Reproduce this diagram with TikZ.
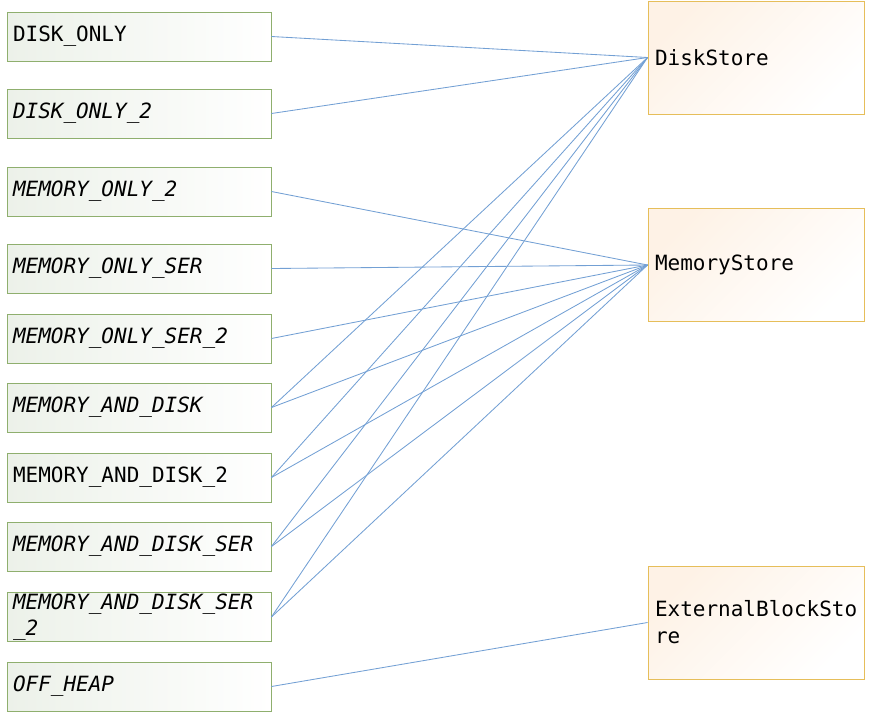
\documentclass[tikz,border=0pt]{standalone}
\usepackage{fontspec}
\setmonofont{DejaVu Sans Mono}
\usepackage{tikz}
\definecolor{lvlborder}{RGB}{143,175,110}
\definecolor{lvlfill}{RGB}{236,241,233}
\definecolor{storeborder}{RGB}{230,190,90}
\definecolor{storefill}{RGB}{254,242,230}
\definecolor{linkblue}{RGB}{115,160,212}

\begin{document}
\begin{tikzpicture}[x=1pt, y=-1pt,
  level/.style={draw=lvlborder, line width=0.9pt, left color=lvlfill, right color=white,
    minimum width=264pt, minimum height=49pt, text width=252pt, inner xsep=6pt, inner ysep=1pt, align=left,
    font=\ttfamily\fontsize{21}{26}\selectfont},
  store/.style={draw=storeborder, line width=0.9pt, top color=storefill, bottom color=white, shading angle=45,
    minimum width=216pt, minimum height=113pt, text width=202pt, inner xsep=7pt, align=left,
    font=\ttfamily\fontsize{21}{27}\selectfont},
  link/.style={draw=linkblue, line width=0.85pt}]
\useasboundingbox (0,0) rectangle (871,713);

\node[level] (L1)  at (139,36.5)  {DISK\_ONLY};
\node[level] (L2)  at (139,113.5) {\itshape DISK\_ONLY\_2};
\node[level] (L3)  at (139,191.5) {\itshape MEMORY\_ONLY\_2};
\node[level] (L4)  at (139,268.5) {\itshape MEMORY\_ONLY\_SER};
\node[level] (L5)  at (139,338.5) {\itshape MEMORY\_ONLY\_SER\_2};
\node[level] (L6)  at (139,407.5) {\itshape MEMORY\_AND\_DISK};
\node[level] (L7)  at (139,477.5) {MEMORY\_AND\_DISK\_2};
\node[level] (L8)  at (139,546.5) {\itshape MEMORY\_AND\_DISK\_SER};
\node[level] (L9)  at (139,617)   {\itshape MEMORY\_AND\_DISK\_SER\\\itshape \_2};
\node[level] (L10) at (139,686.5) {\itshape OFF\_HEAP};

\node[store] (S1) at (756,57.5)  {DiskStore};
\node[store] (S2) at (756,265)   {MemoryStore};
\node[store] (S3) at (756,622.5) {ExternalBlockSto\\re};

\draw[link] (L1.east) -- (S1.west);
\draw[link] (L2.east) -- (S1.west);
\draw[link] (L6.east) -- (S1.west);
\draw[link] (L7.east) -- (S1.west);
\draw[link] (L8.east) -- (S1.west);
\draw[link] (L9.east) -- (S1.west);

\draw[link] (L3.east) -- (S2.west);
\draw[link] (L4.east) -- (S2.west);
\draw[link] (L5.east) -- (S2.west);
\draw[link] (L6.east) -- (S2.west);
\draw[link] (L7.east) -- (S2.west);
\draw[link] (L8.east) -- (S2.west);
\draw[link] (L9.east) -- (S2.west);

\draw[link] (L10.east) -- (S3.west);
\end{tikzpicture}
\end{document}
